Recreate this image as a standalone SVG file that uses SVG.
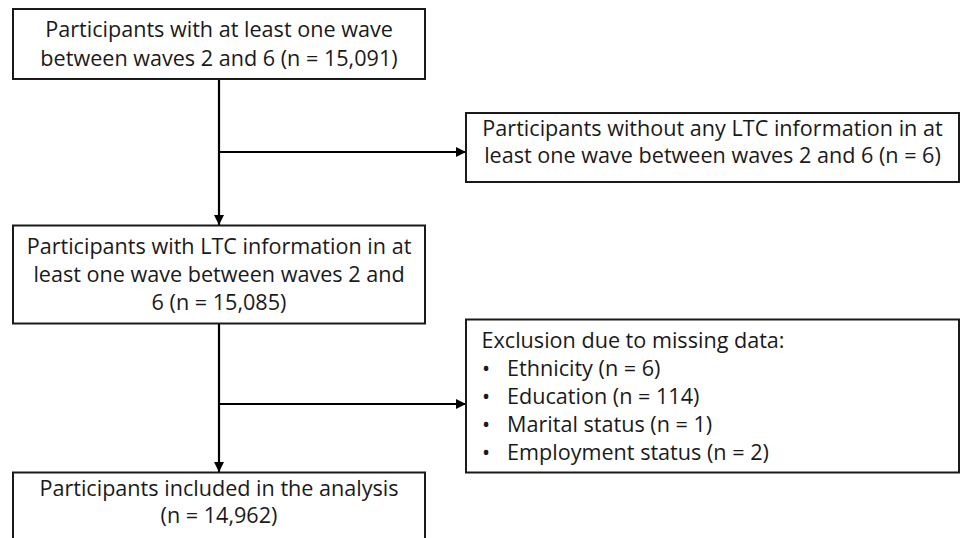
<svg xmlns="http://www.w3.org/2000/svg" width="960" height="538" viewBox="0 0 960 538">
<defs>
<style>
.box{fill:#fff;stroke:#1a1a1a;stroke-width:2}
.t{font-family:"Open Sans","Noto Sans","Liberation Sans",sans-serif;font-size:21.6px;fill:#1a1a1a}
.c{text-anchor:middle}
.ln{stroke:#000;stroke-width:2.2;fill:none}
</style>
<marker id="ah" viewBox="0 0 10 10" refX="10" refY="5" markerWidth="10" markerHeight="10" markerUnits="userSpaceOnUse" orient="auto">
<path d="M0,0 L10,5 L0,10 Z" fill="#000"/>
</marker>
</defs>
<rect width="960" height="538" fill="#fff"/>
<g id="connectors">
<line class="ln" x1="219" y1="79" x2="219" y2="225" marker-end="url(#ah)"/>
<line class="ln" x1="219" y1="152" x2="466" y2="152" marker-end="url(#ah)"/>
<line class="ln" x1="219" y1="323" x2="219" y2="472" marker-end="url(#ah)"/>
<line class="ln" x1="219" y1="404" x2="466" y2="404" marker-end="url(#ah)"/>
</g>
<g id="n1">
<rect class="box" x="13" y="9" width="412" height="70"/>
<text class="t c" x="219" y="37">Participants with at least one wave</text>
<text class="t c" x="219" y="65.5">between waves 2 and 6 (n = 15,091)</text>
</g>
<g id="n2">
<rect class="box" x="466" y="113" width="493" height="69"/>
<text class="t c" x="712.5" y="135.5">Participants without any LTC information in at</text>
<text class="t c" x="712.5" y="163">least one wave between waves 2 and 6 (n = 6)</text>
</g>
<g id="n3">
<rect class="box" x="13" y="225.5" width="412" height="98"/>
<text class="t c" x="219" y="254">Participants with LTC information in at</text>
<text class="t c" x="219" y="282">least one wave between waves 2 and</text>
<text class="t c" x="219" y="310">6 (n = 15,085)</text>
</g>
<g id="n4">
<rect class="box" x="466" y="319.5" width="493" height="153"/>
<text class="t" x="481.5" y="348">Exclusion due to missing data:</text>
<text class="t" x="482" y="376">•</text><text class="t" x="507" y="376">Ethnicity (n = 6)</text>
<text class="t" x="482" y="404">•</text><text class="t" x="507" y="404">Education (n = 114)</text>
<text class="t" x="482" y="432">•</text><text class="t" x="507" y="432">Marital status (n = 1)</text>
<text class="t" x="482" y="460">•</text><text class="t" x="507" y="460">Employment status (n = 2)</text>
</g>
<g id="n5">
<rect class="box" x="13" y="472.5" width="412" height="80"/>
<text class="t c" x="219" y="496">Participants included in the analysis</text>
<text class="t c" x="219" y="523">(n = 14,962)</text>
</g>
</svg>
